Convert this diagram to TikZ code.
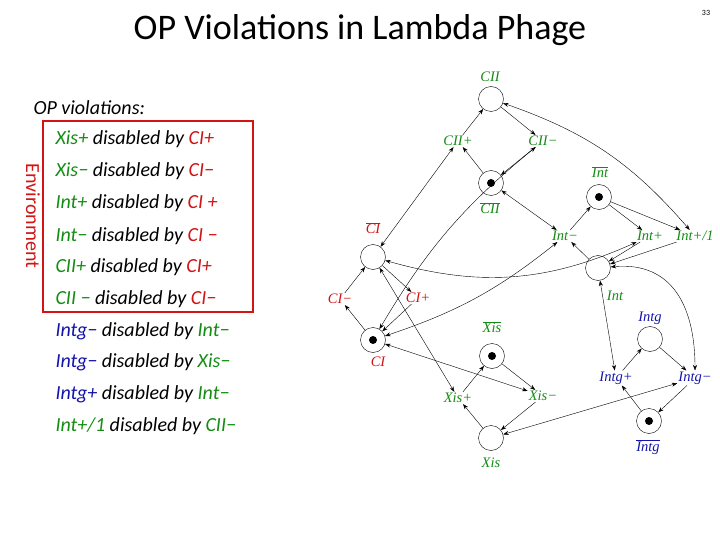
\documentclass[tikz,border=0pt]{standalone}
\usepackage{fontspec}
\setmainfont{Carlito}
\newfontfamily\pnfont{Liberation Serif}
\usetikzlibrary{arrows.meta}
\definecolor{gr}{RGB}{20,140,20}
\definecolor{rd}{RGB}{210,20,20}
\definecolor{bl}{RGB}{20,20,170}
\begin{document}
\begin{tikzpicture}[x=1pt,y=-1pt,
 pl/.style={circle,draw,minimum size=25pt,inner sep=0pt},
 tok/.style={pl,label={[fill=black,circle,inner sep=0pt,minimum size=8pt]center:}},
 tr/.style={font=\pnfont\itshape\fontsize{14.5}{14.5}\selectfont,inner sep=1pt},
 lb/.style={font=\pnfont\itshape\fontsize{14.5}{14.5}\selectfont,inner sep=1pt},
 a/.style={-{Stealth[length=5.5pt,width=4pt]},thin},
 aa/.style={{Stealth[length=5.5pt,width=4pt]}-{Stealth[length=5.5pt,width=4pt]},thin},
 li/.style={anchor=base west,font=\fontsize{20}{20}\selectfont\itshape}]
\useasboundingbox (0,0) rectangle (720,540);
% title
\node (title) at (360,30) {\fontsize{36}{36}\selectfont OP Violations in Lambda Phage};
\node (pg) at (706,13) {\fontsize{8}{8}\selectfont 33};
% list
\node[li] (l0) at (30,115) {OP violations:};
\node[li] (l1) at (52,145) {\color{gr}Xis+ \color{black}disabled by \color{rd}CI+};
\node[li] (l2) at (52,177) {\color{gr}Xis\textminus\ \color{black}disabled by \color{rd}CI\textminus};
\node[li] (l3) at (52,209) {\color{gr}Int+ \color{black}disabled by \color{rd}CI +};
\node[li] (l4) at (52,241) {\color{gr}Int\textminus\ \color{black}disabled by \color{rd}CI \textminus};
\node[li] (l5) at (52,272) {\color{gr}CII+ \color{black}disabled by \color{rd}CI+};
\node[li] (l6) at (52,304) {\color{gr}CII \textminus\ \color{black}disabled by \color{rd}CI\textminus};
\node[li] (l7) at (52,336) {\color{bl}Intg\textminus\ \color{black}disabled by \color{gr}Int\textminus};
\node[li] (l8) at (52,367) {\color{bl}Intg\textminus\ \color{black}disabled by \color{gr}Xis\textminus};
\node[li] (l9) at (52,399) {\color{bl}Intg+ \color{black}disabled by \color{gr}Int\textminus};
\node[li] (l10) at (52,431) {\color{gr}Int+/1 \color{black}disabled by \color{gr}CII\textminus};
\draw[rd,line width=2pt] (43,121) rectangle (253,312);
\node[rd,rotate=-90,font=\fontsize{20}{20}\selectfont] (env) at (33,216) {Environment};
% places
\node[pl] (CII) at (491,99) {};
\node[tok] (CIIb) at (491,183) {};
\node[pl] (CIb) at (373,257) {};
\node[tok] (CI) at (373,340) {};
\node[tok] (Xisb) at (492,356) {};
\node[pl] (Xis) at (491,438) {};
\node[tok] (Intb) at (599,197) {};
\node[pl] (Int) at (598,268) {};
\node[pl] (Intg) at (650,339) {};
\node[tok] (Intgb) at (649,421) {};
% place labels
\node[lb,gr] (tCII) at (490,77) {CII};
\node[lb,gr] (tCIIb) at (490,208) {$\overline{\mbox{CII}}$};
\node[lb,rd] (tCIb) at (373,228) {$\overline{\mbox{CI}}$};
\node[lb,rd] (tCI) at (378,362) {CI};
\node[lb,gr] (tXisb) at (492,327) {$\overline{\mbox{Xis}}$};
\node[lb,gr] (tXis) at (491,463) {Xis};
\node[lb,gr] (tIntb) at (600,172) {$\overline{\mbox{Int}}$};
\node[lb,gr] (tInt) at (615,296) {Int};
\node[lb,bl] (tIntg) at (650,318) {Intg};
\node[lb,bl] (tIntgb) at (648,447) {$\overline{\mbox{Intg}}$};
% transitions
\node[tr,gr] (CIIp) at (458,141) {CII+};
\node[tr,gr] (CIIm) at (543,141) {CII\textminus};
\node[tr,gr] (Intm) at (565,236) {Int\textminus};
\node[tr,gr] (Intp) at (650,236) {Int+};
\node[tr,gr] (Intp1) at (695,236) {Int+/1};
\node[tr,rd] (CIm) at (340,299) {CI\textminus};
\node[tr,rd] (CIp) at (418,298) {CI+};
\node[tr,gr] (Xisp) at (458,398) {Xis+};
\node[tr,gr] (Xism) at (543,396) {Xis\textminus};
\node[tr,bl] (Intgp) at (616,378) {Intg+};
\node[tr,bl] (Intgm) at (695,378) {Intg\textminus};
% arcs
\draw[a] (CIIp) -- (CII);
\draw[a] (CII) -- (CIIm);
\draw[a] (CIIb) -- (CIIp);
\draw[a] (CIIm) -- (CIIb);
\draw[aa] (CIIp) -- (CIb);
\draw[aa] (CIIm) to[bend right=10] (CI);
\draw[aa] (CIIb) -- (Intm);
\draw[aa] (CII) to[bend left=15] (Intp1);
\draw[a] (Intm) -- (Intb);
\draw[a] (Intb) -- (Intp);
\draw[a] (Intb) -- (Intp1);
\draw[a] (Intp) -- (Int);
\draw[a] (Intp1) -- (Int);
\draw[a] (Int) -- (Intm);
\draw[aa] (Intp) to[bend left=20] (CIb);
\draw[aa] (Intm) to[bend left=10] (CI);
\draw[a] (CI) -- (CIm);
\draw[a] (CIm) -- (CIb);
\draw[a] (CIb) -- (CIp);
\draw[a] (CIp) -- (CI);
\draw[aa] (CIb) -- (Xisp);
\draw[aa] (CI) -- (Xism);
\draw[a] (Xisp) -- (Xisb);
\draw[a] (Xisb) -- (Xism);
\draw[a] (Xism) -- (Xis);
\draw[a] (Xis) -- (Xisp);
\draw[aa] (Int) -- (Intgp);
\draw[aa] (Int) to[out=5,in=90,looseness=1.2] (Intgm);
\draw[a] (Intgp) -- (Intg);
\draw[a] (Intg) -- (Intgm);
\draw[a] (Intgm) -- (Intgb);
\draw[a] (Intgb) -- (Intgp);
\draw[aa] (Intgm) -- (Xis);
\end{tikzpicture}
\end{document}
